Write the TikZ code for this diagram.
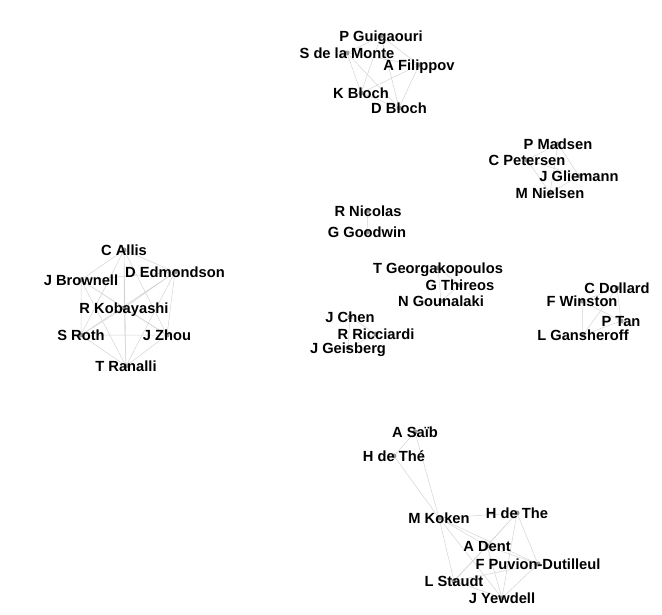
\documentclass[tikz,border=0pt]{standalone}
\usepackage{fontspec}
\setmainfont{Liberation Sans}
\usetikzlibrary{backgrounds}
\tikzset{
	author/.style={circle, fill=black!40, inner sep=0pt, minimum size=5pt},
	authorname/.style={font=\bfseries\fontsize{14.7}{16}\selectfont, inner sep=0pt, text height=10.5pt, text depth=0pt},
	coauthor/.style={draw=black!17, line width=0.5pt}
}

\begin{document}
\begin{tikzpicture}[x=1pt, y=-1pt]
		%%%%% START %%%%%
		
		\useasboundingbox (0, 0) rectangle (662, 614);
		
		% top group
		\node[author, label={[authorname]center:P Guigaouri}] (guig) at (381, 36) {};
		\node[author, label={[authorname]center:S de la Monte}] (monte) at (347, 53) {};
		\node[author, label={[authorname]center:A Filippov}] (filip) at (419, 65) {};
		\node[author, label={[authorname]center:K Bloch}] (kbloch) at (361, 93) {};
		\node[author, label={[authorname]center:D Bloch}] (dbloch) at (399, 108) {};
		
		% left group
		\node[author, label={[authorname]center:C Allis}] (allis) at (124, 250) {};
		\node[author, label={[authorname]center:D Edmondson}] (edmond) at (175, 272) {};
		\node[author, label={[authorname]center:J Brownell}] (brown) at (81, 280) {};
		\node[author, label={[authorname]center:R Kobayashi}] (koba) at (124, 308) {};
		\node[author, label={[authorname]center:S Roth}] (roth) at (81, 335) {};
		\node[author, label={[authorname]center:J Zhou}] (zhou) at (167, 335) {};
		\node[author, label={[authorname]center:T Ranalli}] (ranal) at (126, 366) {};
		
		% middle groups
		\node[author, label={[authorname]center:R Nicolas}] (nicol) at (368, 211) {};
		\node[author, label={[authorname]center:G Goodwin}] (goodw) at (367, 232) {};
		\node[author, label={[authorname]center:T Georgakopoulos}] (georg) at (438, 268) {};
		\node[author, label={[authorname]center:G Thireos}] (thir) at (460, 285) {};
		\node[author, label={[authorname]center:N Gounalaki}] (gounal) at (441, 301) {};
		\node[author, label={[authorname]center:J Chen}] (chen) at (350, 317) {};
		\node[author, label={[authorname]center:R Ricciardi}] (ricci) at (376, 334) {};
		\node[author, label={[authorname]center:J Geisberg}] (geis) at (348, 348) {};
		
		% right groups
		\node[author, label={[authorname]center:P Madsen}] (madsen) at (558, 144) {};
		\node[author, label={[authorname]center:C Petersen}] (peter) at (527, 160) {};
		\node[author, label={[authorname]center:J Gliemann}] (gliem) at (579, 176) {};
		\node[author, label={[authorname]center:M Nielsen}] (niel) at (550, 193) {};
		\node[author, label={[authorname]center:C Dollard}] (dollard) at (617, 288) {};
		\node[author, label={[authorname]center:F Winston}] (winst) at (582, 301) {};
		\node[author, label={[authorname]center:P Tan}] (tan) at (621, 321) {};
		\node[author, label={[authorname]center:L Gansheroff}] (gansh) at (583, 335) {};
		
		% bottom group
		\node[author, label={[authorname]center:A Saïb}] (saib) at (415, 432) {};
		\node[author, label={[authorname]center:H de Thé}] (theacc) at (394, 456) {};
		\node[author, label={[authorname]center:M Koken}] (koken) at (439, 518) {};
		\node[author, label={[authorname]center:H de The}] (the) at (517, 513) {};
		\node[author, label={[authorname]center:A Dent}] (dent) at (487, 546) {};
		\node[author, label={[authorname]center:F Puvion-Dutilleul}] (puvion) at (538, 564) {};
		\node[author, label={[authorname]center:L Staudt}] (staudt) at (454, 581) {};
		\node[author, label={[authorname]center:J Yewdell}] (yewd) at (502, 598) {};
		
		\begin{scope}[on background layer]
		\draw[coauthor] (guig) -- (monte) (guig) -- (filip) (guig) -- (kbloch) (guig) -- (dbloch);
		\draw[coauthor] (monte) -- (filip) (monte) -- (kbloch) (monte) -- (dbloch);
		\draw[coauthor] (filip) -- (kbloch) (filip) -- (dbloch) (kbloch) -- (dbloch);
		
		\draw[coauthor] (allis) -- (edmond) (allis) -- (brown) (allis) -- (koba) (allis) -- (roth) (allis) -- (zhou) (allis) -- (ranal);
		\draw[coauthor] (edmond) -- (brown) (edmond) -- (koba) (edmond) -- (roth) (edmond) -- (zhou) (edmond) -- (ranal);
		\draw[coauthor] (brown) -- (koba) (brown) -- (roth) (brown) -- (zhou) (brown) -- (ranal);
		\draw[coauthor] (koba) -- (roth) (koba) -- (zhou) (koba) -- (ranal);
		\draw[coauthor] (roth) -- (zhou) (roth) -- (ranal) (zhou) -- (ranal);
		
		\draw[coauthor] (nicol) -- (goodw);
		\draw[coauthor] (georg) -- (thir) (georg) -- (gounal) (thir) -- (gounal);
		\draw[coauthor] (chen) -- (ricci) (chen) -- (geis) (ricci) -- (geis);
		
		\draw[coauthor] (madsen) -- (peter) (madsen) -- (gliem) (madsen) -- (niel);
		\draw[coauthor] (peter) -- (gliem) (peter) -- (niel) (gliem) -- (niel);
		\draw[coauthor] (dollard) -- (winst) (dollard) -- (tan) (dollard) -- (gansh);
		\draw[coauthor] (winst) -- (tan) (winst) -- (gansh) (tan) -- (gansh);
		
		\draw[coauthor] (saib) -- (theacc) (saib) -- (koken) (theacc) -- (koken);
		\draw[coauthor] (koken) -- (the) (koken) -- (dent) (koken) -- (puvion) (koken) -- (staudt) (koken) -- (yewd);
		\draw[coauthor] (the) -- (dent) (the) -- (puvion) (the) -- (staudt) (the) -- (yewd);
		\draw[coauthor] (dent) -- (puvion) (dent) -- (staudt) (dent) -- (yewd);
		\draw[coauthor] (puvion) -- (staudt) (puvion) -- (yewd) (staudt) -- (yewd);
		\end{scope}
		
		%%%%% END %%%%%
\end{tikzpicture}
\end{document}
